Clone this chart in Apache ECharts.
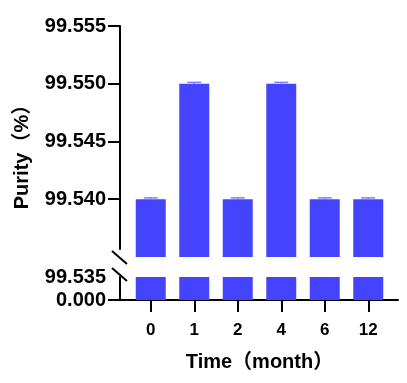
<!DOCTYPE html>
<html>
<head>
<meta charset="utf-8">
<script src="https://cdn.jsdelivr.net/npm/echarts@6/dist/echarts.min.js"></script>
<style>
  html, body { margin: 0; padding: 0; background: #fff; }
  #chart { width: 407px; height: 383px; }
</style>
</head>
<body>
<div id="chart"></div>
<script>
// data
const months = ['0', '1', '2', '4', '6', '12']
const purity = [99.540, 99.550, 99.540, 99.550, 99.540, 99.540]
const purityErr = [0.00012, 0.00012, 0.00012, 0.00012, 0.00012, 0.00012]
const upperTicks = [99.540, 99.545, 99.550, 99.555]
const lowerTicks = [0, 99.535]
const breakAt = 99.535

const FONT = 'Arial, "Liberation Sans", "Noto Sans CJK SC", sans-serif'
const BLUE = '#4444ff'

const chart = echarts.init(document.getElementById('chart'))

// upper segment: 99.535 .. 99.555, grid 26..257 px
const upperTop = 26, upperH = 231, axisLineH = 223
const upperMin = 99.535, upperMax = 99.555
const axisMin = upperMax - (upperMax - upperMin) * axisLineH / upperH

const axisStyle = { lineStyle: { color: '#000', width: 2 } }
const tickStyle = { lineStyle: { color: '#000', width: 2 } }

const option = {
  animation: false,
  grid: [
    { left: 129, width: 261, top: upperTop, height: upperH },   // upper bars
    { left: 129, width: 261, top: 277, height: 23 },             // lower bars
    { left: 120, width: 278, top: upperTop, height: axisLineH }, // upper y axis
    { left: 120, width: 278, top: 277, height: 23 }              // lower y axis + x line
  ],
  xAxis: [
    { gridIndex: 0, type: 'category', data: months, show: false },
    {
      gridIndex: 1, type: 'category', data: months,
      axisLine: { show: false },
      axisTick: { show: true, alignWithLabel: true, length: 12, lineStyle: { color: '#000', width: 2 } },
      axisLabel: { color: '#000', fontSize: 17, fontWeight: 'bold', fontFamily: FONT, margin: 22 },
      name: 'Time（month）', nameLocation: 'middle', nameGap: 52,
      nameTextStyle: { color: '#000', fontSize: 20, fontWeight: 'bold', fontFamily: FONT }
    },
    { gridIndex: 2, type: 'value', show: false },
    {
      gridIndex: 3, type: 'value', min: 0, max: 1,
      axisLine: axisStyle, axisTick: { show: false }, axisLabel: { show: false }, splitLine: { show: false }
    }
  ],
  yAxis: [
    { gridIndex: 0, type: 'value', min: upperMin, max: upperMax, show: false },
    { gridIndex: 1, type: 'value', min: 0, max: breakAt, show: false },
    {
      gridIndex: 2, type: 'value', min: axisMin, max: upperMax,
      axisLine: { show: true, ...axisStyle },
      axisTick: { show: true, length: 12, customValues: upperTicks, ...tickStyle },
      axisLabel: {
        customValues: upperTicks, margin: 14, color: '#000', fontSize: 20, fontWeight: 'bold', fontFamily: FONT,
        formatter: v => v.toFixed(3)
      },
      splitLine: { show: false }
    },
    {
      gridIndex: 3, type: 'value', min: 0, max: breakAt,
      axisLine: { show: true, ...axisStyle },
      axisTick: { show: true, length: 12, customValues: [0], ...tickStyle },
      axisLabel: {
        customValues: lowerTicks, margin: 14, color: '#000', fontSize: 20, fontWeight: 'bold', fontFamily: FONT,
        formatter: v => v.toFixed(3)
      },
      splitLine: { show: false }
    }
  ],
  series: [
    {
      type: 'bar', xAxisIndex: 0, yAxisIndex: 0, barWidth: 30, clip: true,
      itemStyle: { color: BLUE }, data: purity
    },
    {
      type: 'bar', xAxisIndex: 1, yAxisIndex: 1, barWidth: 30, clip: true,
      itemStyle: { color: BLUE }, data: purity.map(v => Math.min(v, breakAt))
    },
    {
      // error bars (mean + SD, upward only)
      type: 'custom', xAxisIndex: 0, yAxisIndex: 0, z: 3,
      data: purity.map((v, i) => [i, v, v + purityErr[i]]),
      renderItem: (params, api) => {
        const lo = api.coord([api.value(0), api.value(1)])
        const hi = api.coord([api.value(0), api.value(2)])
        const w = 7
        const style = { stroke: '#8080ff', lineWidth: 1.5 }
        return {
          type: 'group',
          children: [
            { type: 'line', shape: { x1: lo[0], y1: lo[1], x2: hi[0], y2: hi[1] }, style },
            { type: 'line', shape: { x1: hi[0] - w, y1: hi[1], x2: hi[0] + w, y2: hi[1] }, style }
          ]
        }
      }
    }
  ],
  graphic: [
    // axis break marks
    { type: 'line', shape: { x1: 112, y1: 251, x2: 127, y2: 264 }, style: { stroke: '#000', lineWidth: 2 } },
    { type: 'line', shape: { x1: 112, y1: 268, x2: 127, y2: 281 }, style: { stroke: '#000', lineWidth: 2 } },
    {
      type: 'text', x: 22, y: 152, rotation: Math.PI / 2,
      style: {
        text: 'Purity（%）', fill: '#000', fontSize: 20, fontWeight: 'bold', fontFamily: FONT,
        textAlign: 'center', textVerticalAlign: 'middle'
      }
    }
  ]
}

chart.setOption(option)
</script>
</body>
</html>
